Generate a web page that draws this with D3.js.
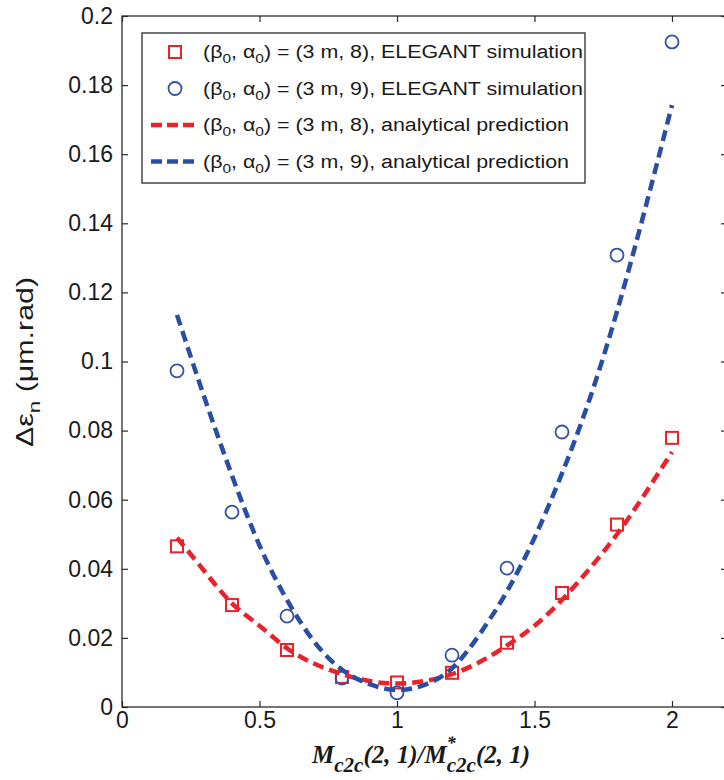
<!DOCTYPE html>
<html>
<head>
<meta charset="utf-8">
<script src="https://cdn.jsdelivr.net/npm/d3@7"></script>
<style>
  body { margin: 0; background: #fff; }
  svg { display: block; }
</style>
</head>
<body>
<svg id="chart" width="724" height="780"></svg>
<script>
// ELEGANT simulation points
const simX = [0.2, 0.4, 0.6, 0.8, 1.0, 1.2, 1.4, 1.6, 1.8, 2.0];
const simAlpha8 = [0.0465, 0.0295, 0.0165, 0.0087, 0.0071, 0.0099, 0.0186, 0.0330, 0.0528, 0.0779];
const simAlpha9 = [0.0973, 0.0564, 0.0263, 0.0084, 0.0041, 0.0150, 0.0402, 0.0796, 0.1308, 0.1925];

// analytical prediction curves
const predX = [0.2, 0.3, 0.4, 0.5, 0.6, 0.7, 0.8, 0.9, 1.0, 1.1, 1.2, 1.3, 1.4, 1.5, 1.6, 1.7, 1.8, 1.9, 2.0];
const predAlpha8 = [0.0490, 0.0393, 0.0300, 0.0235, 0.0170, 0.0125, 0.0095, 0.0075, 0.0068, 0.0075, 0.0095, 0.0130, 0.0178, 0.0235, 0.0310, 0.0400, 0.0500, 0.0615, 0.0738];
const predAlpha9 = [0.1135, 0.0895, 0.0670, 0.0468, 0.0310, 0.0188, 0.0108, 0.0066, 0.0049, 0.0064, 0.0112, 0.0210, 0.0335, 0.0490, 0.0676, 0.0890, 0.1145, 0.1435, 0.1742];

// axis ticks
const xTicks = [0, 0.5, 1, 1.5, 2];
const xTickLabels = ["0", "0.5", "1", "1.5", "2"];
const yTicks = [0, 0.02, 0.04, 0.06, 0.08, 0.1, 0.12, 0.14, 0.16, 0.18, 0.2];
const yTickLabels = ["0", "0.02", "0.04", "0.06", "0.08", "0.1", "0.12", "0.14", "0.16", "0.18", "0.2"];

// legend entries
const legendItems = [
  { kind: "square", color: "#e8232b", b: "β", a: "α", rest: " = (3 m, 8), ELEGANT simulation" },
  { kind: "circle", color: "#3050a5", b: "β", a: "α", rest: " = (3 m, 9), ELEGANT simulation" },
  { kind: "dash", color: "#e8232b", b: "β", a: "α", rest: " = (3 m, 8), analytical prediction" },
  { kind: "dash", color: "#2a4ea6", b: "β", a: "α", rest: " = (3 m, 9), analytical prediction" }
];

const RED = "#e8232b", BLUE = "#2a4ea6", BLUE_MK = "#3552a8";
const AXIS = "#2b2b2b";

const svg = d3.select("#chart");
const margin = { left: 122, top: 16 };
const plotW = 605, plotH = 691;

const x = d3.scaleLinear().domain([0, 2.2]).range([0, plotW]);
const y = d3.scaleLinear().domain([0, 0.2]).range([plotH, 0]);

const g = svg.append("g").attr("transform", `translate(${margin.left},${margin.top})`);

// clip for data marks
svg.append("defs").append("clipPath").attr("id", "plotclip")
  .append("rect").attr("x", 0).attr("y", -10).attr("width", plotW).attr("height", plotH + 10);

const tickFont = "'Liberation Sans', Arial, Helvetica, sans-serif";

// axes with inward ticks
const axL = g.append("g").call(d3.axisLeft(y).tickValues(yTicks)
  .tickFormat((d, i) => yTickLabels[i]).tickSizeInner(-6).tickSizeOuter(0).tickPadding(9));
const axB = g.append("g").attr("transform", `translate(0,${plotH})`)
  .call(d3.axisBottom(x).tickValues(xTicks)
  .tickFormat((d, i) => xTickLabels[i]).tickSizeInner(-6).tickSizeOuter(0).tickPadding(5));
const axR = g.append("g").attr("transform", `translate(${plotW},0)`)
  .call(d3.axisRight(y).tickValues(yTicks).tickFormat("").tickSizeInner(-6).tickSizeOuter(0));
const axT = g.append("g")
  .call(d3.axisTop(x).tickValues(xTicks).tickFormat("").tickSizeInner(-6).tickSizeOuter(0));

[axL, axB, axR, axT].forEach(a => {
  a.select(".domain").remove();
  a.selectAll(".tick line").attr("stroke", AXIS).attr("stroke-width", 1.2);
  a.selectAll(".tick text").attr("fill", "#1a1a1a")
    .style("font-family", tickFont).style("font-size", "23px");
});

// frame
g.append("rect").attr("x", 0).attr("y", 0).attr("width", plotW).attr("height", plotH)
  .attr("fill", "none").attr("stroke", AXIS).attr("stroke-width", 1.3);

const data = g.append("g").attr("clip-path", "url(#plotclip)");

// simulation markers
data.append("g").selectAll("rect").data(simX).join("rect")
  .attr("x", (d) => x(d) - 6).attr("y", (d, i) => y(simAlpha8[i]) - 6)
  .attr("width", 12).attr("height", 12)
  .attr("fill", "none").attr("stroke", RED).attr("stroke-width", 2);

data.append("g").selectAll("circle").data(simX).join("circle")
  .attr("cx", (d) => x(d)).attr("cy", (d, i) => y(simAlpha9[i])).attr("r", 6.5)
  .attr("fill", "none").attr("stroke", BLUE_MK).attr("stroke-width", 1.8);

// analytical prediction curves
const line = d3.line().x(d => x(d[0])).y(d => y(d[1])).curve(d3.curveNatural);
data.append("path").datum(predX.map((v, i) => [v, predAlpha8[i]]))
  .attr("d", line).attr("fill", "none").attr("stroke", RED)
  .attr("stroke-width", 4.5).attr("stroke-dasharray", "11,6");
data.append("path").datum(predX.map((v, i) => [v, predAlpha9[i]]))
  .attr("d", line).attr("fill", "none").attr("stroke", BLUE)
  .attr("stroke-width", 4.5).attr("stroke-dasharray", "11,6");

// legend
const lg = svg.append("g").attr("transform", "translate(142,33)");
lg.append("rect").attr("width", 443).attr("height", 150)
  .attr("fill", "#fff").attr("stroke", AXIS).attr("stroke-width", 1.3);

legendItems.forEach((it, i) => {
  const cy = 19 + i * 36.5;
  const row = lg.append("g").attr("transform", `translate(0,${cy})`);
  if (it.kind === "square") {
    row.append("rect").attr("x", 27).attr("y", -6).attr("width", 12).attr("height", 12)
      .attr("fill", "none").attr("stroke", it.color).attr("stroke-width", 2);
  } else if (it.kind === "circle") {
    row.append("circle").attr("cx", 33).attr("cy", 0).attr("r", 6.5)
      .attr("fill", "none").attr("stroke", it.color).attr("stroke-width", 1.8);
  } else {
    row.append("line").attr("x1", 9).attr("x2", 57).attr("y1", 0).attr("y2", 0)
      .attr("stroke", it.color).attr("stroke-width", 4.5).attr("stroke-dasharray", "11,5");
  }
  const t = row.append("text")
    .attr("transform", "translate(61,6) scale(1.19,1)")
    .style("font-family", tickFont).style("font-size", "18px").attr("fill", "#1a1a1a");
  t.append("tspan").text("(" + it.b);
  t.append("tspan").attr("dy", 5).style("font-size", "13px").text("0");
  t.append("tspan").attr("dy", -5).text(", " + it.a);
  t.append("tspan").attr("dy", 5).style("font-size", "13px").text("0");
  t.append("tspan").attr("dy", -5).text(")" + it.rest);
});

// y-axis title
const yt = svg.append("text")
  .attr("transform", "translate(33,362) rotate(-90) scale(1.32,1)")
  .attr("text-anchor", "middle")
  .style("font-family", tickFont).style("font-size", "23px").attr("fill", "#1a1a1a");
yt.append("tspan").text("Δε");
yt.append("tspan").attr("dy", 7).style("font-size", "17px").text("n");
yt.append("tspan").attr("dy", -7).text(" (μm.rad)");

// x-axis title
const xt = svg.append("text").attr("x", 312).attr("y", 763)
  .style("font-family", "'Liberation Serif', 'Times New Roman', serif")
  .style("font-style", "italic").style("font-weight", "bold")
  .style("font-size", "25px").attr("fill", "#1a1a1a");
xt.append("tspan").text("M");
xt.append("tspan").attr("dy", 9).style("font-size", "21px").text("c2c");
xt.append("tspan").attr("dy", -9).text("(2, 1)/M");
xt.append("tspan").attr("dy", -14).style("font-size", "18px").text("*");
xt.append("tspan").attr("dx", -9).attr("dy", 23).style("font-size", "21px").text("c2c");
xt.append("tspan").attr("dy", -9).text("(2, 1)");
</script>
</body>
</html>
